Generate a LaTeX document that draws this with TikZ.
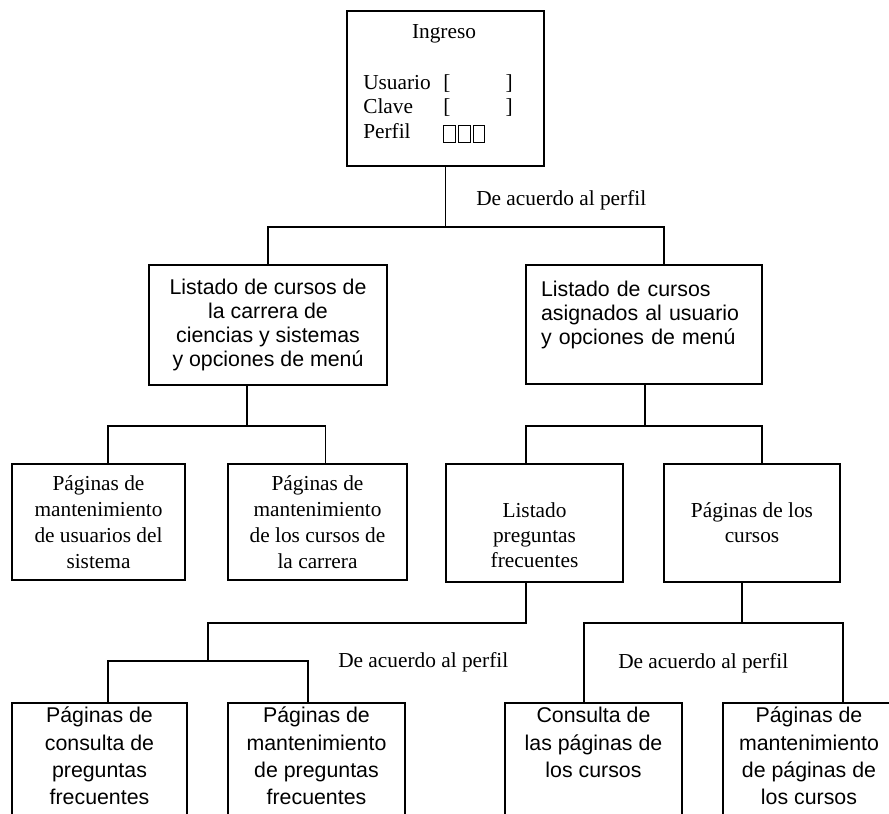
\documentclass[tikz,border=0pt]{standalone}
\usepackage{fontspec}
\setmainfont{Liberation Serif}
\setsansfont{Liberation Sans}
\usetikzlibrary{calc}

\begin{document}
\begin{tikzpicture}[x=0.75pt,y=-0.75pt,
  conn/.style={line width=1.4pt},
  card/.style={draw, line width=1.4pt, rectangle, inner sep=0pt, align=center},
  boxdim/.style 2 args={minimum width={#1*0.75}, minimum height={#2*0.75}},
  plain/.style={inner sep=0pt},
  seriftext/.style={font=\fontsize{16}{18}\selectfont},
  seriftexttall/.style={font=\fontsize{16}{19.5}\selectfont},
  seriftextmid/.style={font=\fontsize{16}{18.75}\selectfont},
  sanstext/.style={font=\sffamily\fontsize{16}{18}\selectfont},
  sansbottom/.style={font=\sffamily\fontsize{16}{20.5}\selectfont},
  leafcard/.style={card, anchor=north, sansbottom, minimum width={#1*0.75}},
  glyphbox/.style={line width=0.6pt}
]
\useasboundingbox (0,0) rectangle (889,814);
\fill[white] (0,0) rectangle (889,814);
\clip (0,0) rectangle (889,814);

% login form
\node[card, boxdim={197}{155}] (ingreso) at (445.5,88.5) {};
\node[plain, seriftext, anchor=base] (tIngreso) at (444,38) {Ingreso};
\node[plain, seriftext, anchor=base west] (tUsuario) at (363,89) {Usuario};
\node[plain, seriftext, anchor=base west] (tClave) at (363,113) {Clave};
\node[plain, seriftext, anchor=base west] (tPerfil) at (363,138) {Perfil};
\node[plain, seriftext, anchor=base west] (openU) at (443,89) {[};
\node[plain, seriftext, anchor=base east] (closeU) at (513,89) {]};
\node[plain, seriftext, anchor=base west] (openC) at (443,113) {[};
\node[plain, seriftext, anchor=base east] (closeC) at (513,113) {]};
\draw[glyphbox] (443,125) rectangle (455,142);
\draw[glyphbox] (458,125) rectangle (470,142);
\draw[glyphbox] (473,125) rectangle (484,142);

% second level
\node[card, boxdim={238}{120}, sanstext] (carrera) at (268,325)
  {Listado de cursos de\\ la carrera de\\ ciencias y sistemas\\ y opciones de menú};
\node[card, boxdim={236}{119}, sanstext, align=left, text width=154.5pt, inner xsep=11.25pt] (asignados) at (644,324.5)
  {Listado de cursos\\ asignados al usuario\\ y opciones de menú\rule[-17pt]{0pt}{17pt}};

% third level
\node[card, boxdim={173}{116}, seriftexttall] (usuarios) at (98.5,522)
  {Páginas de\\ mantenimiento\\ de usuarios del\\ sistema};
\node[card, boxdim={179}{116}, seriftexttall] (cursosC) at (317.5,522)
  {Páginas de\\ mantenimiento\\ de los cursos de\\ la carrera};
\node[card, boxdim={177}{118}, seriftextmid] (preguntas) at (534.5,523)
  {\rule{0pt}{30pt}Listado\\ preguntas\\ frecuentes};
\node[card, boxdim={176}{118}, seriftextmid] (paginas) at (752,523)
  {Páginas de los\\ cursos};

% fourth level
\node[leafcard=175] (consultaPF) at (99.5,702)
  {\rule{0pt}{15pt}Páginas de\\ consulta de\\ preguntas\\ frecuentes\rule[-45pt]{0pt}{45pt}};
\node[leafcard=177] (mantPF) at (316.5,702)
  {\rule{0pt}{15pt}Páginas de\\ mantenimiento\\ de preguntas\\ frecuentes\rule[-45pt]{0pt}{45pt}};
\node[leafcard=177] (consultaPC) at (593.5,702)
  {\rule{0pt}{15pt}Consulta de\\ las páginas de\\ los cursos\rule[-60pt]{0pt}{60pt}};
\node[leafcard=172] (mantPC) at (809,702)
  {\rule{0pt}{15pt}Páginas de\\ mantenimiento\\ de páginas de\\ los cursos\rule[-45pt]{0pt}{45pt}};

% branch labels
\node[plain, seriftext, anchor=base west] (perfilA) at (476,205) {De acuerdo al perfil};
\node[plain, seriftext, anchor=base west] (perfilB) at (338,667) {De acuerdo al perfil};
\node[plain, seriftext, anchor=base west] (perfilC) at (618,668) {De acuerdo al perfil};

% connectors
\coordinate (busA) at (ingreso.south |- 0,227);
\draw[conn] (ingreso.south) -- (busA);
\draw[conn] (carrera.north) |- (busA) -| ($(asignados.north)+(20,0)$);

\coordinate (busB) at ($(carrera.south)+(-21,40)$);
\draw[conn] (carrera.south -| busB) -- (busB);
\draw[conn] ($(usuarios.north)+(9.5,0)$) |- (busB) -| ($(cursosC.north)+(8,0)$);

\coordinate (busC) at ($(asignados.south)+(1,41)$);
\draw[conn] (asignados.south -| busC) -- (busC);
\draw[conn] ($(preguntas.north)+(-8.5,0)$) |- (busC) -| ($(paginas.north)+(10,0)$);

\coordinate (busD) at ($(preguntas.south)+(-8.5,40)$);
\coordinate (busE) at (208,661);
\draw[conn] ($(preguntas.south)+(-8.5,0)$) -- (busD) -| (busE);
\draw[conn] ($(consultaPF.north)+(8.5,0)$) |- (busE) -| ($(mantPF.north)+(-8.5,0)$);

\coordinate (busF) at ($(paginas.south)+(-10,40)$);
\draw[conn] ($(paginas.south)+(-10,0)$) -- (busF);
\draw[conn] ($(consultaPC.north)+(-9.5,0)$) |- (busF) -| ($(mantPC.north)+(34,0)$);
\end{tikzpicture}
\end{document}
